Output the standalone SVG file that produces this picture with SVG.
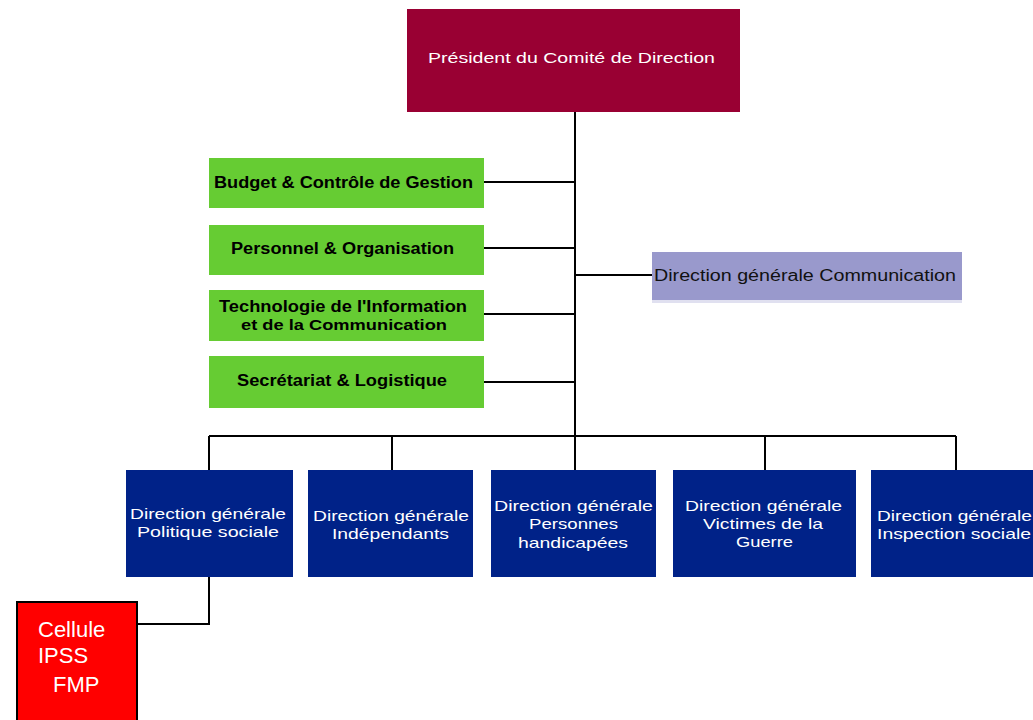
<svg xmlns="http://www.w3.org/2000/svg" width="1033" height="720" viewBox="0 0 1033 720">
<style>
text{font-family:"Liberation Sans",Arial,sans-serif;dominant-baseline:central}
.w{fill:#fff;font-size:15px}
.g{fill:#000;font-size:16px;font-weight:bold}
.c{stroke:#000;stroke-width:2;fill:none}
.blue{fill:#002288}
.green{fill:#66CC33}
</style>
<rect width="1033" height="720" fill="#fff"/>
<g id="connectors">
<path class="c" d="M575,111V436M484,182H575M484,248H575M484,314H575M484,382H575M575,275H652M209,436H956M209,436V470M392,436V470M575,436V470M765,436V470M956,436V470M209,577V624H137"/>
</g>
<g id="president">
<rect x="407" y="9" width="333" height="103" fill="#990033"/>
<text class="w" x="571.5" y="57" text-anchor="middle" textLength="287" lengthAdjust="spacingAndGlyphs">Président du Comité de Direction</text>
</g>
<g id="budget">
<rect class="green" x="209" y="158" width="275" height="50"/>
<text class="g" x="343.5" y="182" text-anchor="middle" textLength="259" lengthAdjust="spacingAndGlyphs">Budget &amp; Contrôle de Gestion</text>
</g>
<g id="personnel">
<rect class="green" x="209" y="225" width="275" height="50"/>
<text class="g" x="342.5" y="248" text-anchor="middle" textLength="223" lengthAdjust="spacingAndGlyphs">Personnel &amp; Organisation</text>
</g>
<g id="tic">
<rect class="green" x="209" y="290" width="275" height="51"/>
<text class="g" x="343" y="306" text-anchor="middle" textLength="248" lengthAdjust="spacingAndGlyphs" style="font-size:17px">Technologie de l'Information</text>
<text class="g" x="344" y="324" text-anchor="middle" textLength="206" lengthAdjust="spacingAndGlyphs" style="font-size:15px">et de la Communication</text>
</g>
<g id="secretariat">
<rect class="green" x="209" y="356" width="275" height="52"/>
<text class="g" x="342" y="380" text-anchor="middle" textLength="210" lengthAdjust="spacingAndGlyphs">Secrétariat &amp; Logistique</text>
</g>
<g id="communication">
<rect x="652" y="300" width="310" height="3" fill="#E0E0F0"/>
<rect x="652" y="252" width="310" height="48" fill="#9999CC"/>
<text x="654" y="275" textLength="302" lengthAdjust="spacingAndGlyphs" style="font-size:16px;fill:#111">Direction générale Communication</text>
</g>
<g id="politique-sociale">
<rect class="blue" x="126" y="470" width="167" height="107"/>
<text class="w" x="208" y="513" text-anchor="middle" textLength="156" lengthAdjust="spacingAndGlyphs">Direction générale</text>
<text class="w" x="208" y="531" text-anchor="middle" textLength="142" lengthAdjust="spacingAndGlyphs">Politique sociale</text>
</g>
<g id="independants">
<rect class="blue" x="308" y="470" width="165" height="107"/>
<text class="w" x="391" y="515" text-anchor="middle" textLength="156" lengthAdjust="spacingAndGlyphs">Direction générale</text>
<text class="w" x="390.5" y="533" text-anchor="middle" textLength="117" lengthAdjust="spacingAndGlyphs">Indépendants</text>
</g>
<g id="handicapes">
<rect class="blue" x="491" y="470" width="165" height="107"/>
<text class="w" x="573.5" y="505" text-anchor="middle" textLength="159" lengthAdjust="spacingAndGlyphs">Direction générale</text>
<text class="w" x="573.5" y="523" text-anchor="middle" textLength="89" lengthAdjust="spacingAndGlyphs">Personnes</text>
<text class="w" x="573" y="542" text-anchor="middle" textLength="110" lengthAdjust="spacingAndGlyphs">handicapées</text>
</g>
<g id="victimes">
<rect class="blue" x="673" y="470" width="183" height="107"/>
<text class="w" x="763.5" y="505" text-anchor="middle" textLength="157" lengthAdjust="spacingAndGlyphs">Direction générale</text>
<text class="w" x="763" y="523" text-anchor="middle" textLength="120" lengthAdjust="spacingAndGlyphs">Victimes de la</text>
<text class="w" x="764.5" y="541" text-anchor="middle" textLength="57" lengthAdjust="spacingAndGlyphs">Guerre</text>
</g>
<g id="inspection">
<rect class="blue" x="871" y="470" width="162" height="107"/>
<text class="w" x="877" y="515" textLength="155" lengthAdjust="spacingAndGlyphs">Direction générale</text>
<text class="w" x="877" y="533" textLength="154" lengthAdjust="spacingAndGlyphs">Inspection sociale</text>
</g>
<g id="cellule">
<rect x="17" y="602" width="120" height="130" fill="#FF0000" stroke="#000" stroke-width="2"/>
<text x="38" y="629" style="font-size:22px;fill:#fff">Cellule</text>
<text x="38" y="655" style="font-size:22px;fill:#fff">IPSS</text>
<text x="53" y="684" style="font-size:22px;fill:#fff">FMP</text>
</g>
</svg>
